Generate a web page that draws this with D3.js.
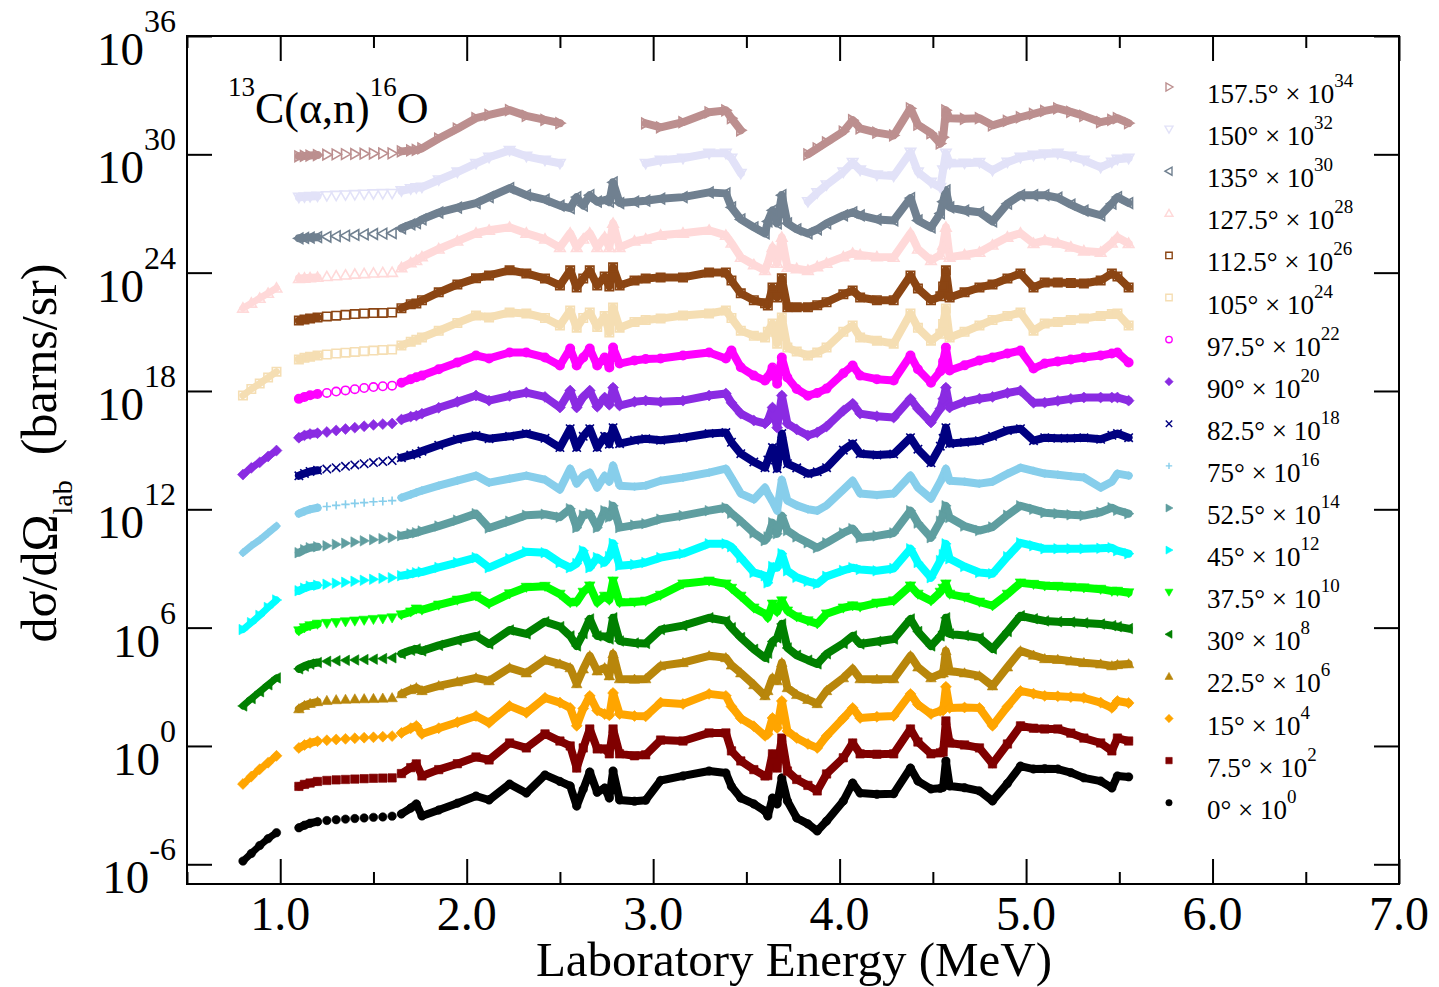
<!DOCTYPE html>
<html>
<head>
<meta charset="utf-8">
<script src="https://cdn.jsdelivr.net/npm/d3@7"></script>
<style>
  body { margin: 0; background: #fff; }
  svg { display: block; font-family: "Liberation Serif", "Times New Roman", serif; }
</style>
</head>
<body>
<script>
// Energy grid of the measurements (MeV)
var energies = [
  1.10, 1.13, 1.16, 1.20, 1.25, 1.30, 1.35, 1.40, 1.45, 1.50, 1.55, 1.60, 1.65,
  1.70, 1.73, 1.76, 1.85, 1.95,
  2.05, 2.12, 2.23, 2.32, 2.42, 2.50,
  2.555, 2.59, 2.625, 2.66, 2.70, 2.74, 2.765, 2.785, 2.82,
  2.90, 2.96, 3.04, 3.16, 3.30, 3.39,
  3.42, 3.47, 3.54, 3.60, 3.615, 3.64, 3.665, 3.69, 3.72,
  3.77, 3.83, 3.88, 3.93,
  4.02, 4.07, 4.11, 4.20, 4.29,
  4.38, 4.42, 4.49, 4.54, 4.555, 4.57, 4.59,
  4.67, 4.75, 4.82, 4.90,
  4.97, 5.04, 5.10, 5.17, 5.24, 5.31, 5.40, 5.46, 5.49, 5.55
];
// low energy run (only some angles)
var lowEnergies = [0.80, 0.845, 0.89, 0.935, 0.98];

// log10 of dsigma/dOmega (barns/sr), before the x10^n offset
var sig0 = [
  -4.15, -4.02, -3.92, -3.84, -3.78, -3.74, -3.71, -3.68, -3.65, -3.62, -3.60, -3.56, -3.45,
  -3.15, -2.94, -3.55, -3.25, -2.90,
  -2.54, -2.74, -1.93, -2.39, -1.47, -1.80,
  -2.03, -3.05, -2.20, -1.32, -2.35, -2.13, -2.64, -1.27, -2.74,
  -2.80, -2.75, -1.75, -1.52, -1.27, -1.37,
  -2.05, -2.64, -2.94, -3.30, -3.55, -2.64, -2.94, -1.62, -2.79,
  -3.65, -3.95, -4.31, -3.81,
  -2.79, -1.88, -2.39, -2.45, -2.42,
  -1.12, -1.78, -2.18, -2.15, -2.10, -0.76, -2.03,
  -2.12, -2.28, -2.79, -1.90,
  -1.02, -1.17, -1.15, -1.17, -1.35, -1.62, -1.78, -2.13, -1.52, -1.57
];
var sig7_5 = [
  -4.05, -3.95, -3.88, -3.80, -3.75, -3.72, -3.70, -3.68, -3.66, -3.64, -3.63, -3.62, -3.40,
  -3.10, -2.91, -3.52, -3.20, -2.90,
  -2.56, -2.71, -1.85, -2.10, -1.39, -1.75,
  -2.00, -3.12, -2.10, -1.14, -2.15, -2.15, -2.40, -1.14, -2.40,
  -2.50, -2.45, -1.70, -1.75, -1.34, -1.34,
  -2.25, -2.76, -3.20, -3.52, -3.50, -2.40, -3.12, -1.60, -3.27,
  -3.70, -4.00, -4.28, -3.42,
  -2.60, -1.85, -2.40, -2.42, -2.40,
  -1.14, -1.80, -2.40, -2.35, -2.30, -0.73, -1.85,
  -1.95, -2.10, -2.91, -1.90,
  -0.98, -1.10, -1.14, -1.14, -1.35, -1.60, -1.85, -2.25, -1.60, -1.75
];
var sig15 = [
  -4.10, -3.95, -3.85, -3.76, -3.71, -3.67, -3.64, -3.61, -3.58, -3.56, -3.53, -3.50, -3.34,
  -3.10, -2.98, -3.39, -3.10, -2.80,
  -2.48, -2.83, -1.97, -2.32, -1.56, -1.80,
  -2.07, -2.98, -2.10, -1.46, -2.20, -2.38, -2.45, -1.31, -2.38,
  -2.48, -2.50, -1.80, -1.87, -1.36, -1.46,
  -2.00, -2.60, -3.00, -3.49, -3.40, -2.58, -3.09, -1.72, -3.24,
  -3.60, -3.90, -4.10, -3.50,
  -2.60, -2.07, -2.58, -2.52, -2.48,
  -1.36, -1.90, -2.38, -2.22, -2.20, -1.00, -2.07,
  -2.05, -2.07, -2.98, -2.00,
  -1.21, -1.35, -1.46, -1.48, -1.52, -1.56, -1.80, -2.07, -1.72, -1.82
];
var sig22_5 = [
  -4.12, -3.95, -3.85, -3.76, -3.70, -3.66, -3.64, -3.62, -3.61, -3.60, -3.58, -3.56, -3.36,
  -3.15, -3.05, -3.20, -2.95, -2.75,
  -2.55, -2.70, -2.04, -2.30, -1.64, -1.85,
  -2.04, -2.85, -2.10, -1.43, -2.20, -2.04, -2.45, -1.33, -2.60,
  -2.62, -2.60, -1.94, -1.78, -1.43, -1.53,
  -1.90, -2.30, -2.90, -3.46, -3.20, -2.55, -2.70, -1.78, -3.05,
  -3.40, -3.65, -3.86, -3.20,
  -2.55, -2.09, -2.60, -2.62, -2.60,
  -1.43, -2.00, -2.55, -2.35, -2.30, -1.18, -2.20,
  -2.30, -2.45, -2.96, -2.00,
  -1.18, -1.40, -1.58, -1.62, -1.70, -1.78, -1.85, -1.94, -1.88, -1.84
];
var sig30 = [
  -4.09, -3.95, -3.85, -3.77, -3.71, -3.68, -3.66, -3.64, -3.62, -3.60, -3.57, -3.53, -3.33,
  -3.15, -3.08, -3.18, -2.90, -2.65,
  -2.42, -2.83, -2.12, -2.32, -1.70, -1.95,
  -2.42, -2.93, -2.30, -1.56, -2.42, -2.45, -2.58, -1.50, -2.68,
  -2.78, -2.80, -2.10, -1.90, -1.50, -1.66,
  -2.00, -2.50, -3.10, -3.53, -3.30, -2.70, -2.52, -1.81, -3.03,
  -3.40, -3.65, -3.84, -3.33,
  -2.80, -2.42, -2.83, -2.70, -2.58,
  -1.56, -2.20, -2.93, -2.42, -2.20, -1.50, -2.32,
  -2.40, -2.52, -3.08, -2.20,
  -1.40, -1.55, -1.66, -1.70, -1.72, -1.76, -1.82, -1.90, -1.95, -2.05
];
var sig37_5 = [
  -4.16, -4.00, -3.90, -3.82, -3.78, -3.74, -3.70, -3.66, -3.62, -3.58, -3.55, -3.50, -3.35,
  -3.20, -3.05, -3.10, -2.85, -2.60,
  -2.39, -2.79, -2.28, -1.95, -1.90, -2.30,
  -2.73, -2.70, -2.20, -1.88, -2.73, -2.40, -2.60, -1.63, -2.73,
  -2.70, -2.65, -2.35, -1.78, -1.63, -1.78,
  -2.00, -2.40, -3.00, -3.30, -3.50, -2.80, -3.20, -2.64, -3.15,
  -3.45, -3.65, -3.80, -3.30,
  -3.00, -2.89, -2.95, -2.75, -2.64,
  -1.88, -2.30, -2.64, -2.20, -2.00, -1.78, -2.30,
  -2.45, -2.70, -2.89, -2.30,
  -1.73, -1.80, -1.88, -1.90, -1.94, -1.98, -2.05, -2.15, -2.15, -2.23
];
var sig45 = [
  -4.13, -4.00, -3.90, -3.85, -3.80, -3.75, -3.70, -3.65, -3.60, -3.55, -3.50, -3.47, -3.37,
  -3.28, -3.22, -3.18, -2.95, -2.70,
  -2.45, -2.96, -2.50, -2.15, -2.20, -2.70,
  -2.96, -2.75, -2.10, -2.96, -2.45, -2.70, -2.40, -1.73, -2.86,
  -2.80, -2.70, -2.45, -2.25, -1.75, -1.75,
  -1.90, -2.45, -3.20, -3.37, -3.73, -2.90, -2.96, -2.25, -3.12,
  -3.45, -3.65, -3.78, -3.40,
  -3.10, -2.96, -3.05, -3.12, -3.00,
  -2.00, -2.70, -3.47, -2.60, -2.30, -1.75, -2.51,
  -2.90, -3.20, -3.27, -2.40,
  -1.70, -1.85, -2.00, -2.00, -2.00, -2.00, -1.98, -1.95, -2.10, -2.25
];
var sig52_5 = [
  -4.20, -4.05, -3.95, -3.90, -3.85, -3.78, -3.72, -3.66, -3.60, -3.54, -3.49, -3.44, -3.34,
  -3.24, -3.19, -3.10, -2.85, -2.55,
  -2.22, -2.95, -2.60, -2.30, -2.25, -2.40,
  -1.97, -2.93, -2.30, -2.22, -2.93, -2.07, -2.40, -1.82, -2.93,
  -2.80, -2.73, -2.50, -2.32, -2.07, -1.92,
  -2.20, -2.60, -3.20, -3.59, -3.40, -2.68, -3.24, -2.32, -3.08,
  -3.40, -3.70, -3.95, -3.70,
  -3.20, -2.98, -3.44, -3.35, -3.20,
  -2.07, -2.70, -3.44, -2.60, -2.30, -1.82, -2.42,
  -2.85, -3.08, -2.90, -2.30,
  -1.82, -2.00, -2.17, -2.22, -2.28, -2.32, -2.15, -1.92, -2.05, -2.22
];
var sig75 = [
  -4.22, -4.10, -4.00, -3.92, -3.86, -3.80, -3.75, -3.70, -3.66, -3.62, -3.59, -3.56, -3.41,
  -3.25, -3.15, -3.05, -2.80, -2.55,
  -2.29, -2.65, -2.45, -2.29, -2.50, -3.00,
  -1.94, -2.70, -2.30, -2.14, -2.90, -2.30, -2.60, -1.78, -2.80,
  -2.85, -2.80, -2.55, -2.39, -2.14, -1.94,
  -2.40, -3.20, -3.50, -2.90, -3.20, -3.60, -4.07, -2.50, -3.56,
  -3.80, -4.00, -4.07, -3.80,
  -3.00, -2.55, -3.20, -3.28, -3.20,
  -2.29, -2.90, -3.46, -2.60, -2.30, -1.94, -2.55,
  -2.60, -2.70, -2.60, -2.20,
  -1.89, -2.05, -2.19, -2.25, -2.32, -2.39, -2.90, -2.60, -2.19, -2.29
];
var sig82_5 = [
  -4.30, -4.18, -4.08, -4.02, -3.96, -3.89, -3.82, -3.75, -3.69, -3.63, -3.58, -3.53, -3.38,
  -3.25, -3.18, -3.05, -2.75, -2.45,
  -2.26, -2.42, -2.30, -2.16, -2.40, -2.87,
  -1.91, -2.87, -2.30, -1.91, -2.87, -2.30, -2.70, -1.86, -2.67,
  -2.50, -2.42, -2.50, -2.37, -2.16, -2.11,
  -2.60, -3.18, -3.60, -3.89, -3.50, -2.87, -3.94, -2.16, -3.69,
  -3.90, -4.20, -4.10, -3.89,
  -3.00, -2.67, -3.18, -3.25, -3.20,
  -2.37, -2.95, -3.64, -2.80, -2.40, -1.86, -2.67,
  -2.60, -2.52, -2.30, -2.00,
  -1.91, -2.52, -2.37, -2.40, -2.40, -2.37, -2.45, -2.25, -2.16, -2.37
];
var sig90 = [
  -4.37, -4.25, -4.18, -4.14, -4.08, -4.00, -3.93, -3.86, -3.79, -3.72, -3.68, -3.65, -3.45,
  -3.30, -3.25, -3.15, -2.85, -2.55,
  -2.23, -2.49, -2.25, -2.08, -2.30, -2.84,
  -1.98, -2.84, -2.30, -1.98, -2.80, -2.33, -2.70, -1.83, -2.74,
  -2.55, -2.49, -2.55, -2.49, -2.23, -2.13,
  -2.60, -3.15, -3.50, -3.65, -3.50, -2.84, -3.86, -2.23, -3.65,
  -3.95, -4.26, -4.10, -3.80,
  -3.00, -2.64, -3.15, -3.28, -3.35,
  -2.39, -2.90, -3.60, -2.90, -2.40, -1.83, -2.84,
  -2.55, -2.39, -2.30, -2.10,
  -1.98, -2.60, -2.59, -2.50, -2.40, -2.33, -2.33, -2.33, -2.33, -2.49
];
var sig97_5 = [
  -4.40, -4.30, -4.22, -4.15, -4.10, -4.03, -3.97, -3.91, -3.85, -3.80, -3.76, -3.73, -3.58,
  -3.40, -3.30, -3.22, -2.90, -2.55,
  -2.20, -2.35, -2.05, -2.05, -2.30, -2.71,
  -1.85, -2.71, -2.30, -1.85, -2.71, -2.30, -2.81, -1.80, -2.61,
  -2.45, -2.38, -2.35, -2.20, -2.05, -2.35,
  -1.95, -2.80, -3.22, -3.47, -3.30, -2.81, -3.63, -2.30, -3.32,
  -3.90, -4.24, -4.10, -3.88,
  -3.10, -2.71, -3.22, -3.40, -3.47,
  -2.20, -2.90, -3.58, -3.00, -2.50, -1.80, -2.96,
  -2.70, -2.45, -2.30, -2.10,
  -1.95, -2.86, -2.61, -2.50, -2.40, -2.30, -2.20, -2.10, -2.05, -2.56
];
var sig105 = [
  -4.40, -4.32, -4.26, -4.20, -4.15, -4.10, -4.06, -4.02, -3.98, -3.95, -3.92, -3.90, -3.70,
  -3.50, -3.40, -3.29, -2.95, -2.55,
  -2.17, -2.27, -2.02, -2.07, -2.30, -2.68,
  -1.92, -2.79, -2.30, -2.02, -2.75, -2.20, -3.04, -1.77, -2.79,
  -2.50, -2.40, -2.33, -2.17, -2.07, -1.92,
  -2.30, -2.94, -3.20, -3.29, -3.00, -2.58, -3.60, -2.27, -3.80,
  -4.00, -4.20, -4.05, -3.80,
  -3.00, -2.68, -3.29, -3.45, -3.60,
  -2.07, -2.80, -3.45, -3.10, -2.60, -1.82, -3.29,
  -3.00, -2.68, -2.40, -2.20,
  -2.02, -2.94, -2.58, -2.50, -2.40, -2.33, -2.20, -2.10, -2.07, -2.68
];
var sig112_5 = [
  -4.43, -4.38, -4.33, -4.27, -4.22, -4.18, -4.14, -4.10, -4.07, -4.05, -4.04, -4.02, -3.80,
  -3.60, -3.56, -3.40, -3.00, -2.60,
  -2.29, -2.14, -1.88, -2.04, -2.30, -2.65,
  -1.88, -2.75, -2.30, -1.88, -2.65, -2.20, -2.70, -1.73, -2.65,
  -2.40, -2.30, -2.24, -2.24, -1.99, -1.99,
  -2.40, -3.05, -3.40, -3.55, -3.66, -2.75, -3.26, -2.29, -3.76,
  -3.76, -3.76, -3.65, -3.50,
  -3.10, -2.90, -3.26, -3.40, -3.40,
  -2.14, -2.80, -3.40, -3.20, -2.70, -1.88, -3.26,
  -3.00, -2.75, -2.60, -2.30,
  -2.04, -2.75, -2.50, -2.50, -2.52, -2.55, -2.40, -2.04, -2.20, -2.75
];
var sig127_5 = [
  -4.30, -4.28, -4.26, -4.24, -4.20, -4.16, -4.12, -4.08, -4.05, -4.02, -4.00, -3.99, -3.75,
  -3.50, -3.38, -3.20, -2.80, -2.40,
  -2.00, -1.85, -1.70, -2.00, -2.30, -2.72,
  -2.00, -2.72, -2.30, -2.00, -2.72, -2.20, -2.72, -1.50, -2.72,
  -2.40, -2.30, -2.10, -2.00, -1.85, -2.11,
  -2.50, -3.22, -3.60, -3.89, -3.50, -2.72, -3.53, -2.21, -3.73,
  -3.80, -3.89, -3.70, -3.53,
  -3.20, -3.02, -3.10, -3.20, -3.22,
  -2.00, -2.80, -3.38, -3.10, -2.60, -1.70, -3.22,
  -3.10, -2.97, -2.60, -2.20,
  -2.00, -2.52, -2.37, -2.50, -2.70, -2.90, -2.97, -2.50, -2.21, -2.52
];
var sig135 = [
  -4.26, -4.24, -4.22, -4.20, -4.18, -4.15, -4.12, -4.09, -4.06, -4.04, -4.02, -4.00, -3.75,
  -3.55, -3.49, -3.30, -2.95, -2.70,
  -2.47, -2.17, -1.71, -2.07, -2.30, -2.60,
  -2.73, -2.17, -2.60, -2.07, -2.40, -2.32, -2.40, -1.42, -2.47,
  -2.40, -2.35, -2.25, -2.17, -1.93, -1.98,
  -2.69, -3.30, -3.70, -4.01, -3.40, -2.84, -3.50, -2.07, -3.50,
  -3.80, -4.01, -3.80, -3.50,
  -3.10, -2.94, -3.10, -3.30, -3.35,
  -2.22, -3.35, -3.71, -3.00, -2.40, -1.83, -2.69,
  -2.85, -2.94, -3.40, -2.50,
  -2.07, -2.07, -2.07, -2.20, -2.55, -2.85, -3.09, -2.50, -2.17, -2.47
];
var sig150 = [
  -4.18, -4.16, -4.14, -4.12, -4.10, -4.08, -4.06, -4.04, -4.02, -4.00, -3.99, -3.98, -3.85,
  -3.75, -3.70, -3.67, -3.30, -2.90,
  -2.46, -2.15, -1.80, -2.10, -2.30, -2.46,
  null, null, null, null, null, null, null, null, null, null,
  -2.46, -2.30, -2.20, -1.95, -1.95, -2.20, -2.97,
  null, null, null, null, null, null, null, null,
  -4.40, -3.95, -3.55,
  -2.90, -2.41, -2.80, -3.05, -3.10,
  -1.90, -2.90, -3.42, -3.68, -2.80, -1.95, -2.46,
  -2.45, -2.41, -2.81, -2.40,
  -2.15, -2.05, -1.98, -1.95, -2.10, -2.30, -2.66, -2.40, -2.25, -2.20
];
var sig157_5 = [
  -4.10, -4.08, -4.06, -4.04, -4.02, -4.00, -3.99, -3.98, -3.97, -3.96, -3.95, -3.95, -3.85,
  -3.80, -3.78, -3.70, -3.20, -2.70,
  -2.17, -2.00, -1.76, -2.05, -2.25, -2.42,
  null, null, null, null, null, null, null, null, null, null,
  -2.43, -2.63, -2.37, -1.87, -1.77, -2.17, -2.78,
  null, null, null, null, null, null, null, null,
  -4.00, -3.70, -3.40,
  -2.85, -2.27, -2.68, -2.90, -3.04,
  -1.67, -2.50, -2.93, -3.45, -3.14, -1.77, -2.17,
  -2.20, -2.17, -2.53, -2.30,
  -2.12, -1.95, -1.80, -1.67, -1.85, -2.05, -2.37, -2.25, -2.17, -2.42
];

// low-energy runs
var low0 = [-5.84, -5.45, -5.05, -4.70, -4.40];
var low15 = [-5.93, -5.55, -5.18, -4.85, -4.50];
var low30 = [-5.97, -5.60, -5.25, -4.90, -4.55];
var low45 = [-6.10, -5.75, -5.38, -4.98, -4.60];
var low75 = [-6.20, -5.85, -5.55, -5.20, -4.85];
var low90 = [-6.24, -5.90, -5.62, -5.32, -5.02];
var low105 = [-6.23, -5.90, -5.62, -5.32, -5.02];
var low127_5 = [-5.80, -5.55, -5.30, -5.05, -4.78];

// legend order (top to bottom)
var angles = ["157.5", "150", "135", "127.5", "112.5", "105", "97.5", "90", "82.5",
              "75", "52.5", "45", "37.5", "30", "22.5", "15", "7.5", "0"];
var offsets = [34, 32, 30, 28, 26, 24, 22, 20, 18, 16, 14, 12, 10, 8, 6, 4, 2, 0];
var mainData = [sig157_5, sig150, sig135, sig127_5, sig112_5, sig105, sig97_5, sig90, sig82_5,
                sig75, sig52_5, sig45, sig37_5, sig30, sig22_5, sig15, sig7_5, sig0];
var lowData = [null, null, null, low127_5, null, low105, null, low90, null,
               low75, null, low45, null, low30, null, low15, null, low0];

var xMajor = [1, 2, 3, 4, 5, 6, 7];
var xMinor = [0.5, 1.5, 2.5, 3.5, 4.5, 5.5, 6.5];
var xTickLabels = ["1.0", "2.0", "3.0", "4.0", "5.0", "6.0", "7.0"];
var yExps = [-6, 0, 6, 12, 18, 24, 30, 36];

// marker styles
var colors = ["#bc8f8f", "#e2e2f8", "#708090", "#ffd9d9", "#8b4513", "#f5deb3", "#ff00ff", "#8a2be2", "#000080",
              "#87ceeb", "#5f9ea0", "#00ffff", "#00ff00", "#008000", "#b8860b", "#ffa500", "#800000", "#000000"];
var shapes = ["triR", "triD", "triL", "triU", "square", "square", "circle", "diamond", "x",
              "plus", "triR", "triR", "triD", "triL", "triU", "diamond", "square", "circle"];
var open = [true, true, true, true, true, true, true, false, false,
            false, false, false, false, false, false, false, false, false];

var W = 1439, H = 987;
var plotL = 187, plotR = 1399, plotT = 36, plotB = 884;

var x = d3.scaleLinear().domain([0.5, 7.0]).range([plotL, plotR]);
var y = d3.scaleLog().domain([1e-7, 1e36]).range([plotB, plotT]);

var svg = d3.select("body").append("svg")
    .attr("width", W)
    .attr("height", H);

function rot(px, py, a) {
    var c = Math.cos(a), s = Math.sin(a);
    return [px * c - py * s, px * s + py * c];
}

function markerPath(shape, r) {
    if (shape === "circle") return d3.symbol(d3.symbolCircle, Math.PI * r * r)();
    if (shape === "square") return "M" + (-r) + "," + (-r) + "h" + 2 * r + "v" + 2 * r + "h" + (-2 * r) + "Z";
    if (shape === "diamond") { var t = r * 1.3; return "M0," + (-t) + "L" + t + ",0L0," + t + "L" + (-t) + ",0Z"; }
    if (shape === "plus") return "M" + (-r) + ",0H" + r + "M0," + (-r) + "V" + r;
    if (shape === "x") return "M" + (-r) + "," + (-r) + "L" + r + "," + r + "M" + (-r) + "," + r + "L" + r + "," + (-r);
    // triangles
    var ang = {triU: 0, triR: Math.PI / 2, triD: Math.PI, triL: -Math.PI / 2}[shape];
    var k = r * 1.25;
    var pts = [[0, -k], [k, k * 0.75], [-k, k * 0.75]].map(function(p) { return rot(p[0], p[1], ang); });
    return "M" + pts.map(function(p) { return p[0].toFixed(2) + "," + p[1].toFixed(2); }).join("L") + "Z";
}

function styleMarker(sel, i, sw) {
    var lineOnly = shapes[i] === "plus" || shapes[i] === "x";
    sel.attr("fill", (open[i] || lineOnly) ? "none" : colors[i])
       .attr("stroke", colors[i])
       .attr("stroke-width", (open[i] || lineOnly) ? sw : 0.6);
}

// dense parts of the runs drawn as thick strokes of overlapping symbols
function isDense(e) { return e <= 1.21 || e >= 1.64; }

var plot = svg.append("g");

for (var i = mainData.length - 1; i >= 0; i--) {
    var pts = energies.map(function(e, j) { return {e: e, v: mainData[i][j]}; });
    var factor = offsets[i];
    var g = plot.append("g");

    var line = d3.line()
        .defined(function(d) { return d.v !== null && isDense(d.e); })
        .x(function(d) { return x(d.e); })
        .y(function(d) { return y(Math.pow(10, d.v + factor)); });

    g.append("path")
        .datum(pts)
        .attr("fill", "none")
        .attr("stroke", colors[i])
        .attr("stroke-width", 8)
        .attr("stroke-linejoin", "round")
        .attr("stroke-linecap", "round")
        .attr("d", line);

    var mk = markerPath(shapes[i], 4.2);
    g.selectAll(".mk")
        .data(pts.filter(function(d) { return d.v !== null; }))
        .enter()
        .append("path")
        .attr("transform", function(d) { return "translate(" + x(d.e) + "," + y(Math.pow(10, d.v + factor)) + ")"; })
        .attr("d", mk)
        .call(styleMarker, i, 1.6);

    if (lowData[i]) {
        var lp = lowEnergies.map(function(e, j) { return {e: e, v: lowData[i][j]}; });
        g.append("path")
            .datum(lp)
            .attr("fill", "none")
            .attr("stroke", colors[i])
            .attr("stroke-width", 7)
            .attr("stroke-linecap", "round")
            .attr("d", d3.line()
                .x(function(d) { return x(d.e); })
                .y(function(d) { return y(Math.pow(10, d.v + factor)); }));
        g.selectAll(".lmk")
            .data(lp)
            .enter()
            .append("path")
            .attr("transform", function(d) { return "translate(" + x(d.e) + "," + y(Math.pow(10, d.v + factor)) + ")"; })
            .attr("d", mk)
            .call(styleMarker, i, 1.6);
    }
}

// frame
svg.append("rect")
    .attr("x", plotL).attr("y", plotT)
    .attr("width", plotR - plotL).attr("height", plotB - plotT)
    .attr("fill", "none").attr("stroke", "#000").attr("stroke-width", 2);

// ticks, pointing inward on all four sides
function tickAxis(axis, tx, ty, vals, size) {
    var g = svg.append("g")
        .attr("transform", "translate(" + tx + "," + ty + ")")
        .call(axis.tickValues(vals).tickSize(-size).tickSizeOuter(0).tickFormat(""));
    g.select(".domain").remove();
    g.selectAll(".tick line").attr("stroke", "#000").attr("stroke-width", 2);
}
tickAxis(d3.axisBottom(x), 0, plotB, xMajor, 25);
tickAxis(d3.axisBottom(x), 0, plotB, xMinor, 12);
tickAxis(d3.axisTop(x), 0, plotT, xMajor, 25);
tickAxis(d3.axisTop(x), 0, plotT, xMinor, 12);
var yTickVals = yExps.map(function(e) { return Math.pow(10, e); });
tickAxis(d3.axisLeft(y), plotL, 0, yTickVals, 25);
tickAxis(d3.axisRight(y), plotR, 0, yTickVals, 25);

// x tick labels
svg.selectAll(".xl")
    .data(xMajor)
    .enter()
    .append("text")
    .attr("x", function(d) { return x(d); })
    .attr("y", 930)
    .attr("text-anchor", "middle")
    .attr("font-size", 48)
    .text(function(d, i) { return xTickLabels[i]; });

// y tick labels 10^n
yExps.forEach(function(e) {
    var t = svg.append("text")
        .attr("x", 176)
        .attr("y", y(Math.pow(10, e)) + 29)
        .attr("text-anchor", "end")
        .attr("font-size", 47);
    t.append("tspan").text("10");
    t.append("tspan").attr("font-size", 32).attr("dy", -33).text(String(e));
});

// axis titles
svg.append("text")
    .attr("x", 794)
    .attr("y", 976)
    .attr("text-anchor", "middle")
    .attr("font-size", 49)
    .text("Laboratory Energy (MeV)");

var yt = svg.append("text")
    .attr("transform", "translate(56,453) rotate(-90)")
    .attr("text-anchor", "middle")
    .attr("font-size", 50);
yt.append("tspan").text("d\u03c3/d\u03a9");
yt.append("tspan").attr("font-size", 28).attr("dy", 16).text("lab");
yt.append("tspan").attr("dy", -16).text("\u00a0\u00a0(barns/sr)");

// reaction label
var rt = svg.append("text")
    .attr("x", 228)
    .attr("y", 123)
    .attr("font-size", 44);
rt.append("tspan").attr("font-size", 27).attr("dy", -27).text("13");
rt.append("tspan").attr("dy", 27).text("C(\u03b1,n)");
rt.append("tspan").attr("font-size", 27).attr("dy", -27).text("16");
rt.append("tspan").attr("dy", 27).text("O");

// legend
var legend = svg.selectAll(".lg")
    .data(angles)
    .enter()
    .append("g")
    .attr("transform", function(d, i) { return "translate(1169," + (87 + i * 42.1) + ")"; });

legend.append("path")
    .attr("d", function(d, i) { return markerPath(shapes[i], 3.2); })
    .each(function(d, i) { styleMarker(d3.select(this), i, 1.4); });

legend.append("text")
    .attr("x", 38)
    .attr("y", 16)
    .attr("font-size", 27)
    .each(function(d, i) {
        var t = d3.select(this);
        t.append("tspan").text(d + "\u00b0 \u00d7 10");
        t.append("tspan").attr("font-size", 19).attr("dy", -16).text(String(offsets[i]));
    });
</script>
</body>
</html>
